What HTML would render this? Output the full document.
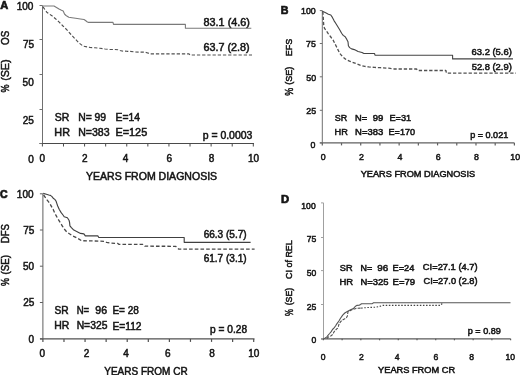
<!DOCTYPE html>
<html><head><meta charset="utf-8"><style>
html,body{margin:0;padding:0;background:#fff;}
svg{display:block;filter:grayscale(1);}
text{font-family:"Liberation Sans",sans-serif;fill:#151515;stroke:#151515;stroke-width:0.5;}
.hv text{stroke-width:0.5;}
text.pl{stroke-width:0.7;}
.ax{stroke:#6a6a6a;stroke-width:1;fill:none;}
polyline{fill:none;stroke-linejoin:round;}
.sa{stroke:#7a7a7a;stroke-width:1.1;}
.sb{stroke:#444;stroke-width:1.1;}
.sc{stroke:#404040;stroke-width:1.15;}
.sd{stroke:#555;stroke-width:1.1;}
.da{stroke:#505050;stroke-width:1.15;stroke-dasharray:3.3 1.9;}
.db{stroke:#505050;stroke-width:1.3;stroke-dasharray:3.3 1.9;}
.dc{stroke:#484848;stroke-width:1.3;stroke-dasharray:3.6 2.1;}
.dd1{stroke:#505050;stroke-width:1.1;stroke-dasharray:3 1.2;}
.dd{stroke:#404040;stroke-width:1.1;stroke-dasharray:1.5 1.6;}
</style></head><body>
<svg width="520" height="375" viewBox="0 0 520 375" xmlns="http://www.w3.org/2000/svg">
<line x1="42.5" y1="5.5" x2="42.5" y2="143.5" stroke="#707070" stroke-width="1"/>
<line x1="39.5" y1="143.5" x2="254.0" y2="143.5" stroke="#4a4a4a" stroke-width="1"/>
<line x1="39.5" y1="5.5" x2="42.5" y2="5.5" stroke="#707070" stroke-width="1"/>
<line x1="39.5" y1="39.5" x2="42.5" y2="39.5" stroke="#707070" stroke-width="1"/>
<line x1="39.5" y1="74.5" x2="42.5" y2="74.5" stroke="#707070" stroke-width="1"/>
<line x1="39.5" y1="109.5" x2="42.5" y2="109.5" stroke="#707070" stroke-width="1"/>
<line x1="39.5" y1="143.5" x2="42.5" y2="143.5" stroke="#707070" stroke-width="1"/>
<line x1="42.40" y1="143.5" x2="42.40" y2="146.5" stroke="#4a4a4a" stroke-width="1"/>
<line x1="63.49" y1="143.5" x2="63.49" y2="146.5" stroke="#4a4a4a" stroke-width="1"/>
<line x1="84.58" y1="143.5" x2="84.58" y2="146.5" stroke="#4a4a4a" stroke-width="1"/>
<line x1="105.67" y1="143.5" x2="105.67" y2="146.5" stroke="#4a4a4a" stroke-width="1"/>
<line x1="126.76" y1="143.5" x2="126.76" y2="146.5" stroke="#4a4a4a" stroke-width="1"/>
<line x1="147.85" y1="143.5" x2="147.85" y2="146.5" stroke="#4a4a4a" stroke-width="1"/>
<line x1="168.94" y1="143.5" x2="168.94" y2="146.5" stroke="#4a4a4a" stroke-width="1"/>
<line x1="190.03" y1="143.5" x2="190.03" y2="146.5" stroke="#4a4a4a" stroke-width="1"/>
<line x1="211.12" y1="143.5" x2="211.12" y2="146.5" stroke="#4a4a4a" stroke-width="1"/>
<line x1="232.21" y1="143.5" x2="232.21" y2="146.5" stroke="#4a4a4a" stroke-width="1"/>
<line x1="253.30" y1="143.5" x2="253.30" y2="146.5" stroke="#4a4a4a" stroke-width="1"/>
<text class="pl" transform="translate(0.27,9) scale(0.948,1)" font-size="11.63" font-weight="bold">A</text>
<text transform="translate(8.81,44.96) rotate(-90) scale(0.888,1)" font-size="11.07">OS</text>
<text transform="translate(8.80,80.86) rotate(-90) scale(0.986,1)" font-size="10.82">(SE)</text>
<text transform="translate(8.85,92.53) rotate(-90) scale(0.808,1)" font-size="11.20">%</text>
<text transform="translate(16.66,10) scale(1.000,1)" font-size="10.00">100</text>
<text transform="translate(22.95,48) scale(1.000,1)" font-size="10.00">75</text>
<text transform="translate(22.62,86) scale(1.000,1)" font-size="10.00">50</text>
<text transform="translate(22.75,124) scale(1.000,1)" font-size="10.00">25</text>
<text transform="translate(28.28,163) scale(1.000,1)" font-size="10.00">0</text>
<text transform="translate(39.42,162) scale(1.000,1)" font-size="10.00">0</text>
<text transform="translate(81.92,162) scale(1.000,1)" font-size="10.00">2</text>
<text transform="translate(122.85,162) scale(1.000,1)" font-size="10.00">4</text>
<text transform="translate(166.49,162) scale(1.000,1)" font-size="10.00">6</text>
<text transform="translate(208.82,162) scale(1.000,1)" font-size="10.00">8</text>
<text transform="translate(248.00,162) scale(1.000,1)" font-size="10.00">10</text>
<text transform="translate(86.02,180) scale(1.054,1)" font-size="10.00">YEARS FROM DIAGNOSIS</text>
<text transform="translate(203.58,26) scale(1.083,1)" font-size="10.00">83.1 (4.6)</text>
<text transform="translate(203.40,51) scale(1.080,1)" font-size="10.00">63.7 (2.8)</text>
<text transform="translate(54.67,121) scale(1.049,1)" font-size="10.00">SR</text>
<text transform="translate(78.15,121) scale(1.038,1)" font-size="10.00">N= 99</text>
<text transform="translate(115.50,121) scale(1.035,1)" font-size="10.00">E=14</text>
<text transform="translate(54.36,136) scale(1.084,1)" font-size="10.00">HR</text>
<text transform="translate(78.13,136) scale(1.059,1)" font-size="10.00">N=383</text>
<text transform="translate(115.46,136) scale(1.088,1)" font-size="10.00">E=125</text>
<text transform="translate(202.68,139) scale(1.044,1)" font-size="10.00">p = 0.0003</text>
<polyline class="sa" points="42.50,6.00 54.00,6.00 56.50,7.50 59.00,9.00 61.50,10.30 63.20,11.00 64.50,14.00 66.00,15.50 68.80,17.20 72.00,17.70 75.60,18.30 80.40,19.00 84.00,19.50 85.50,20.50 87.00,21.70 88.50,22.40 113.00,22.40 113.50,24.40 185.40,24.40 185.40,28.20 251.30,28.20"/>
<polyline class="da" points="43.00,6.80 44.40,8.80 47.00,12.50 51.50,15.40 55.50,18.80 59.20,22.10 63.00,26.00 66.90,29.80 71.00,34.50 75.60,39.40 79.00,43.00 83.30,46.20 90.00,47.40 95.00,47.80 100.00,48.30 105.00,49.00 110.00,49.50 115.00,49.50 118.00,49.80 120.00,50.50 122.00,51.00 127.00,51.30 130.00,51.30 135.00,52.00 145.00,52.20 147.00,52.80 150.00,53.80 189.00,53.80 190.00,55.00 252.00,55.00"/>
<g class="hv">
<line x1="322.3" y1="10.6" x2="322.3" y2="142.9" stroke="#707070" stroke-width="1"/>
<line x1="319.8" y1="142.9" x2="514.5" y2="142.9" stroke="#606060" stroke-width="1.2"/>
<line x1="319.8" y1="10.6" x2="322.3" y2="10.6" stroke="#707070" stroke-width="1"/>
<line x1="319.8" y1="43.5" x2="322.3" y2="43.5" stroke="#707070" stroke-width="1"/>
<line x1="319.8" y1="76.8" x2="322.3" y2="76.8" stroke="#707070" stroke-width="1"/>
<line x1="319.8" y1="110.3" x2="322.3" y2="110.3" stroke="#707070" stroke-width="1"/>
<line x1="319.8" y1="142.9" x2="322.3" y2="142.9" stroke="#707070" stroke-width="1"/>
<line x1="322.30" y1="142.9" x2="322.30" y2="145.4" stroke="#606060" stroke-width="1.2"/>
<line x1="341.51" y1="142.9" x2="341.51" y2="145.4" stroke="#606060" stroke-width="1.2"/>
<line x1="360.72" y1="142.9" x2="360.72" y2="145.4" stroke="#606060" stroke-width="1.2"/>
<line x1="379.93" y1="142.9" x2="379.93" y2="145.4" stroke="#606060" stroke-width="1.2"/>
<line x1="399.14" y1="142.9" x2="399.14" y2="145.4" stroke="#606060" stroke-width="1.2"/>
<line x1="418.35" y1="142.9" x2="418.35" y2="145.4" stroke="#606060" stroke-width="1.2"/>
<line x1="437.56" y1="142.9" x2="437.56" y2="145.4" stroke="#606060" stroke-width="1.2"/>
<line x1="456.77" y1="142.9" x2="456.77" y2="145.4" stroke="#606060" stroke-width="1.2"/>
<line x1="475.98" y1="142.9" x2="475.98" y2="145.4" stroke="#606060" stroke-width="1.2"/>
<line x1="495.19" y1="142.9" x2="495.19" y2="145.4" stroke="#606060" stroke-width="1.2"/>
<line x1="514.40" y1="142.9" x2="514.40" y2="145.4" stroke="#606060" stroke-width="1.2"/>
<text class="pl" transform="translate(280.74,14) scale(0.928,1)" font-size="11.48" font-weight="bold">B</text>
<text transform="translate(292.08,56.24) rotate(-90) scale(0.900,1)" font-size="9.97">EFS</text>
<text transform="translate(292.05,84.76) rotate(-90) scale(0.979,1)" font-size="9.25">(SE)</text>
<text transform="translate(292.54,95.82) rotate(-90) scale(0.832,1)" font-size="10.72">%</text>
<text transform="translate(301.01,14) scale(1.000,1)" font-size="8.80">100</text>
<text transform="translate(306.03,47) scale(1.000,1)" font-size="8.80">75</text>
<text transform="translate(306.31,81) scale(1.000,1)" font-size="8.80">50</text>
<text transform="translate(306.33,114) scale(1.000,1)" font-size="8.80">25</text>
<text transform="translate(310.60,148) scale(1.000,1)" font-size="8.80">0</text>
<text transform="translate(320.75,160) scale(1.000,1)" font-size="8.80">0</text>
<text transform="translate(358.95,160) scale(1.000,1)" font-size="8.80">2</text>
<text transform="translate(397.48,160) scale(1.000,1)" font-size="8.80">4</text>
<text transform="translate(435.82,160) scale(1.000,1)" font-size="8.80">6</text>
<text transform="translate(473.95,160) scale(1.000,1)" font-size="8.80">8</text>
<text transform="translate(510.24,160) scale(1.000,1)" font-size="8.80">10</text>
<text transform="translate(360.65,177) scale(1.047,1)" font-size="8.80">YEARS FROM DIAGNOSIS</text>
<text transform="translate(471.57,55) scale(1.069,1)" font-size="8.80">63.2 (5.6)</text>
<text transform="translate(471.67,70) scale(1.066,1)" font-size="8.80">52.8 (2.9)</text>
<text transform="translate(334.83,121) scale(1.026,1)" font-size="8.80">SR</text>
<text transform="translate(355.09,121) scale(1.054,1)" font-size="8.80">N=</text>
<text transform="translate(372.70,121) scale(1.083,1)" font-size="8.80">99</text>
<text transform="translate(389.40,121) scale(1.044,1)" font-size="8.80">E=31</text>
<text transform="translate(334.50,135) scale(1.046,1)" font-size="8.80">HR</text>
<text transform="translate(355.07,135) scale(1.077,1)" font-size="8.80">N=383</text>
<text transform="translate(388.50,135) scale(1.036,1)" font-size="8.80">E=170</text>
<text transform="translate(470.27,138) scale(1.029,1)" font-size="8.80">p = 0.021</text>
<polyline class="sb" points="322.30,11.20 325.20,12.60 328.40,14.20 330.80,15.00 332.40,17.40 334.00,20.60 336.00,23.80 338.00,27.00 340.00,30.30 341.60,33.20 343.20,35.40 345.20,36.80 346.80,39.40 348.00,41.80 348.40,45.80 349.60,47.60 351.60,48.90 354.30,49.60 358.10,51.50 362.00,52.50 363.90,53.50 374.50,53.50 375.00,55.20 452.60,55.20 452.60,58.90 513.00,58.90"/>
<polyline class="db" points="322.80,11.50 323.20,16.00 323.50,22.00 323.80,26.00 324.40,28.20 326.40,31.00 328.40,33.80 330.80,37.00 333.20,40.20 334.80,43.40 336.00,45.80 337.90,49.60 339.80,53.50 342.70,56.80 345.60,59.20 349.50,61.20 353.30,62.60 357.20,64.00 361.00,65.50 364.80,66.40 368.70,66.90 374.50,67.40 380.20,67.70 388.70,68.20 394.40,69.00 416.50,69.00 418.00,70.50 445.90,70.50 446.50,73.20 516.00,73.20"/>
</g>
<line x1="42.9" y1="193.8" x2="42.9" y2="338.9" stroke="#606060" stroke-width="1"/>
<line x1="40" y1="338.9" x2="254.5" y2="338.9" stroke="#505050" stroke-width="1.2"/>
<line x1="39.9" y1="193.8" x2="42.9" y2="193.8" stroke="#606060" stroke-width="1"/>
<line x1="39.9" y1="230" x2="42.9" y2="230" stroke="#606060" stroke-width="1"/>
<line x1="39.9" y1="266.2" x2="42.9" y2="266.2" stroke="#606060" stroke-width="1"/>
<line x1="39.9" y1="302.5" x2="42.9" y2="302.5" stroke="#606060" stroke-width="1"/>
<line x1="39.9" y1="338.9" x2="42.9" y2="338.9" stroke="#606060" stroke-width="1"/>
<line x1="42.90" y1="338.9" x2="42.90" y2="341.9" stroke="#505050" stroke-width="1.2"/>
<line x1="63.98" y1="338.9" x2="63.98" y2="341.9" stroke="#505050" stroke-width="1.2"/>
<line x1="85.06" y1="338.9" x2="85.06" y2="341.9" stroke="#505050" stroke-width="1.2"/>
<line x1="106.14" y1="338.9" x2="106.14" y2="341.9" stroke="#505050" stroke-width="1.2"/>
<line x1="127.22" y1="338.9" x2="127.22" y2="341.9" stroke="#505050" stroke-width="1.2"/>
<line x1="148.30" y1="338.9" x2="148.30" y2="341.9" stroke="#505050" stroke-width="1.2"/>
<line x1="169.38" y1="338.9" x2="169.38" y2="341.9" stroke="#505050" stroke-width="1.2"/>
<line x1="190.46" y1="338.9" x2="190.46" y2="341.9" stroke="#505050" stroke-width="1.2"/>
<line x1="211.54" y1="338.9" x2="211.54" y2="341.9" stroke="#505050" stroke-width="1.2"/>
<line x1="232.62" y1="338.9" x2="232.62" y2="341.9" stroke="#505050" stroke-width="1.2"/>
<line x1="253.70" y1="338.9" x2="253.70" y2="341.9" stroke="#505050" stroke-width="1.2"/>
<text class="pl" transform="translate(0.12,198) scale(0.934,1)" font-size="11.30" font-weight="bold">C</text>
<text transform="translate(8.50,243.29) rotate(-90) scale(0.907,1)" font-size="10.60">DFS</text>
<text transform="translate(8.56,274.40) rotate(-90) scale(0.933,1)" font-size="10.45">(SE)</text>
<text transform="translate(8.85,286.12) rotate(-90) scale(0.797,1)" font-size="11.20">%</text>
<text transform="translate(16.86,198) scale(1.000,1)" font-size="10.00">100</text>
<text transform="translate(23.25,234) scale(1.000,1)" font-size="10.00">75</text>
<text transform="translate(22.92,270) scale(1.000,1)" font-size="10.00">50</text>
<text transform="translate(23.15,306) scale(1.000,1)" font-size="10.00">25</text>
<text transform="translate(28.48,343) scale(1.000,1)" font-size="10.00">0</text>
<text transform="translate(39.42,357) scale(1.000,1)" font-size="10.00">0</text>
<text transform="translate(83.82,357) scale(1.000,1)" font-size="10.00">2</text>
<text transform="translate(123.15,357) scale(1.000,1)" font-size="10.00">4</text>
<text transform="translate(164.88,357) scale(1.000,1)" font-size="10.00">6</text>
<text transform="translate(209.32,357) scale(1.000,1)" font-size="10.00">8</text>
<text transform="translate(248.16,357) scale(1.000,1)" font-size="10.00">10</text>
<text transform="translate(104.23,375) scale(1.001,1)" font-size="10.00">YEARS FROM CR</text>
<text transform="translate(203.64,238) scale(1.006,1)" font-size="10.00">66.3 (5.7)</text>
<text transform="translate(203.64,262) scale(1.006,1)" font-size="10.00">61.7 (3.1)</text>
<text transform="translate(54.53,314) scale(1.022,1)" font-size="10.00">SR</text>
<text transform="translate(76.71,314) scale(0.957,1)" font-size="10.00">N=</text>
<text transform="translate(95.35,314) scale(1.058,1)" font-size="10.00">96</text>
<text transform="translate(112.43,314) scale(1.004,1)" font-size="10.00">E= 28</text>
<text transform="translate(54.14,329) scale(1.046,1)" font-size="10.00">HR</text>
<text transform="translate(76.65,329) scale(1.035,1)" font-size="10.00">N=325</text>
<text transform="translate(112.41,330) scale(1.023,1)" font-size="10.00">E=112</text>
<text transform="translate(210.10,333) scale(1.016,1)" font-size="10.00">p = 0.28</text>
<polyline class="sc" points="43.20,193.40 46.40,194.20 48.80,195.00 50.40,195.40 52.00,196.60 53.20,198.20 54.80,199.40 56.00,201.00 56.80,203.40 57.60,205.80 59.30,209.50 61.00,212.40 63.00,215.00 64.20,216.80 67.40,217.80 69.00,220.20 69.60,222.60 69.90,225.80 71.40,227.70 73.80,230.10 76.70,231.50 80.50,233.40 83.90,233.90 85.30,235.90 97.80,235.90 98.80,237.50 184.20,237.50 184.20,242.30 250.60,242.30"/>
<polyline class="dc" points="43.60,195.00 45.60,197.80 47.20,200.20 48.80,202.20 50.40,204.60 52.00,207.40 53.20,209.40 54.40,212.20 55.60,214.60 57.30,217.80 59.80,221.80 62.20,225.80 64.20,229.00 66.60,231.80 69.40,233.80 72.80,235.90 77.60,238.30 81.50,240.70 94.90,241.00 104.50,241.30 106.50,242.30 110.30,243.10 117.90,243.50 118.80,244.40 142.90,244.40 144.80,246.20 175.60,246.30 178.90,249.20 254.60,249.20"/>
<g class="hv">
<line x1="323.5" y1="202.9" x2="323.5" y2="338.8" stroke="#a0a0a0" stroke-width="1"/>
<line x1="321" y1="338.8" x2="510.6" y2="338.8" stroke="#5a5a5a" stroke-width="1.2"/>
<line x1="321.0" y1="202.9" x2="323.5" y2="202.9" stroke="#a0a0a0" stroke-width="1"/>
<line x1="321.0" y1="237.5" x2="323.5" y2="237.5" stroke="#a0a0a0" stroke-width="1"/>
<line x1="321.0" y1="270.6" x2="323.5" y2="270.6" stroke="#a0a0a0" stroke-width="1"/>
<line x1="321.0" y1="304.5" x2="323.5" y2="304.5" stroke="#a0a0a0" stroke-width="1"/>
<line x1="321.0" y1="338.8" x2="323.5" y2="338.8" stroke="#a0a0a0" stroke-width="1"/>
<line x1="323.40" y1="338.8" x2="323.40" y2="340.3" stroke="#5a5a5a" stroke-width="1.2"/>
<line x1="342.12" y1="338.8" x2="342.12" y2="340.3" stroke="#5a5a5a" stroke-width="1.2"/>
<line x1="360.84" y1="338.8" x2="360.84" y2="340.3" stroke="#5a5a5a" stroke-width="1.2"/>
<line x1="379.56" y1="338.8" x2="379.56" y2="340.3" stroke="#5a5a5a" stroke-width="1.2"/>
<line x1="398.28" y1="338.8" x2="398.28" y2="340.3" stroke="#5a5a5a" stroke-width="1.2"/>
<line x1="417.00" y1="338.8" x2="417.00" y2="340.3" stroke="#5a5a5a" stroke-width="1.2"/>
<line x1="435.72" y1="338.8" x2="435.72" y2="340.3" stroke="#5a5a5a" stroke-width="1.2"/>
<line x1="454.44" y1="338.8" x2="454.44" y2="340.3" stroke="#5a5a5a" stroke-width="1.2"/>
<line x1="473.16" y1="338.8" x2="473.16" y2="340.3" stroke="#5a5a5a" stroke-width="1.2"/>
<line x1="491.88" y1="338.8" x2="491.88" y2="340.3" stroke="#5a5a5a" stroke-width="1.2"/>
<line x1="510.60" y1="338.8" x2="510.60" y2="340.3" stroke="#5a5a5a" stroke-width="1.2"/>
<text class="pl" transform="translate(280.90,203) scale(1.006,1)" font-size="11.19" font-weight="bold">D</text>
<text transform="translate(292.07,278.96) rotate(-90) scale(0.976,1)" font-size="9.16">CI of REL</text>
<text transform="translate(291.99,305.35) rotate(-90) scale(0.920,1)" font-size="9.61">(SE)</text>
<text transform="translate(292.85,316.08) rotate(-90) scale(0.688,1)" font-size="11.20">%</text>
<text transform="translate(301.34,209) scale(1.000,1)" font-size="8.60">100</text>
<text transform="translate(306.80,242) scale(1.000,1)" font-size="8.60">75</text>
<text transform="translate(306.77,276) scale(1.000,1)" font-size="8.60">50</text>
<text transform="translate(306.80,310) scale(1.000,1)" font-size="8.60">25</text>
<text transform="translate(311.55,343) scale(1.000,1)" font-size="8.60">0</text>
<text transform="translate(320.81,360) scale(1.000,1)" font-size="8.60">0</text>
<text transform="translate(359.01,360) scale(1.000,1)" font-size="8.60">2</text>
<text transform="translate(394.83,360) scale(1.000,1)" font-size="8.60">4</text>
<text transform="translate(433.48,360) scale(1.000,1)" font-size="8.60">6</text>
<text transform="translate(469.21,360) scale(1.000,1)" font-size="8.60">8</text>
<text transform="translate(505.46,360) scale(1.000,1)" font-size="8.60">10</text>
<text transform="translate(378.05,373) scale(1.076,1)" font-size="8.60">YEARS FROM CR</text>
<text transform="translate(339.82,271) scale(1.077,1)" font-size="8.60">SR</text>
<text transform="translate(360.52,271) scale(1.039,1)" font-size="8.60">N=</text>
<text transform="translate(377.29,271) scale(1.150,1)" font-size="8.60">96</text>
<text transform="translate(392.59,271) scale(1.074,1)" font-size="8.60">E=24</text>
<text transform="translate(422.87,270) scale(1.085,1)" font-size="8.60">CI=27.1 (4.7)</text>
<text transform="translate(339.47,285) scale(1.105,1)" font-size="8.60">HR</text>
<text transform="translate(360.47,285) scale(1.102,1)" font-size="8.60">N=325</text>
<text transform="translate(392.56,285) scale(1.114,1)" font-size="8.60">E=79</text>
<text transform="translate(423.53,284) scale(1.072,1)" font-size="8.60">CI=27.0 (2.8)</text>
<text transform="translate(467.77,334) scale(1.054,1)" font-size="8.60">p = 0.89</text>
<polyline class="sd" points="323.50,338.60 324.80,338.30 326.90,336.90 328.00,335.30 329.60,333.50 331.20,331.60 332.50,329.50 334.10,327.90 335.50,326.00 336.80,323.90 338.90,321.00 340.50,318.30 342.70,315.10 344.80,313.00 346.90,311.70 349.10,310.60 351.20,309.50 353.30,308.60 355.60,306.20 356.80,305.40 359.20,305.20 360.50,304.50 361.50,303.80 372.30,303.60 373.50,302.70 510.50,302.70"/>
<polyline class="dd1" points="326.80,338.50 328.50,336.90 330.70,336.10 332.30,334.80 333.30,333.20 334.40,331.30 336.00,329.70 337.60,328.10 338.40,326.50 338.70,325.20 339.20,323.60 341.60,320.50 344.30,319.10 346.40,317.80 347.50,315.70 347.70,313.50 348.00,311.80 350.40,310.60 352.80,309.40 356.00,308.40 361.20,308.10"/>
<polyline class="dd" points="361.20,308.10 367.70,307.50 375.40,307.20 379.20,306.50 383.00,305.40 440.40,305.40 443.00,302.70"/>
</g>
</svg>
</body></html>
